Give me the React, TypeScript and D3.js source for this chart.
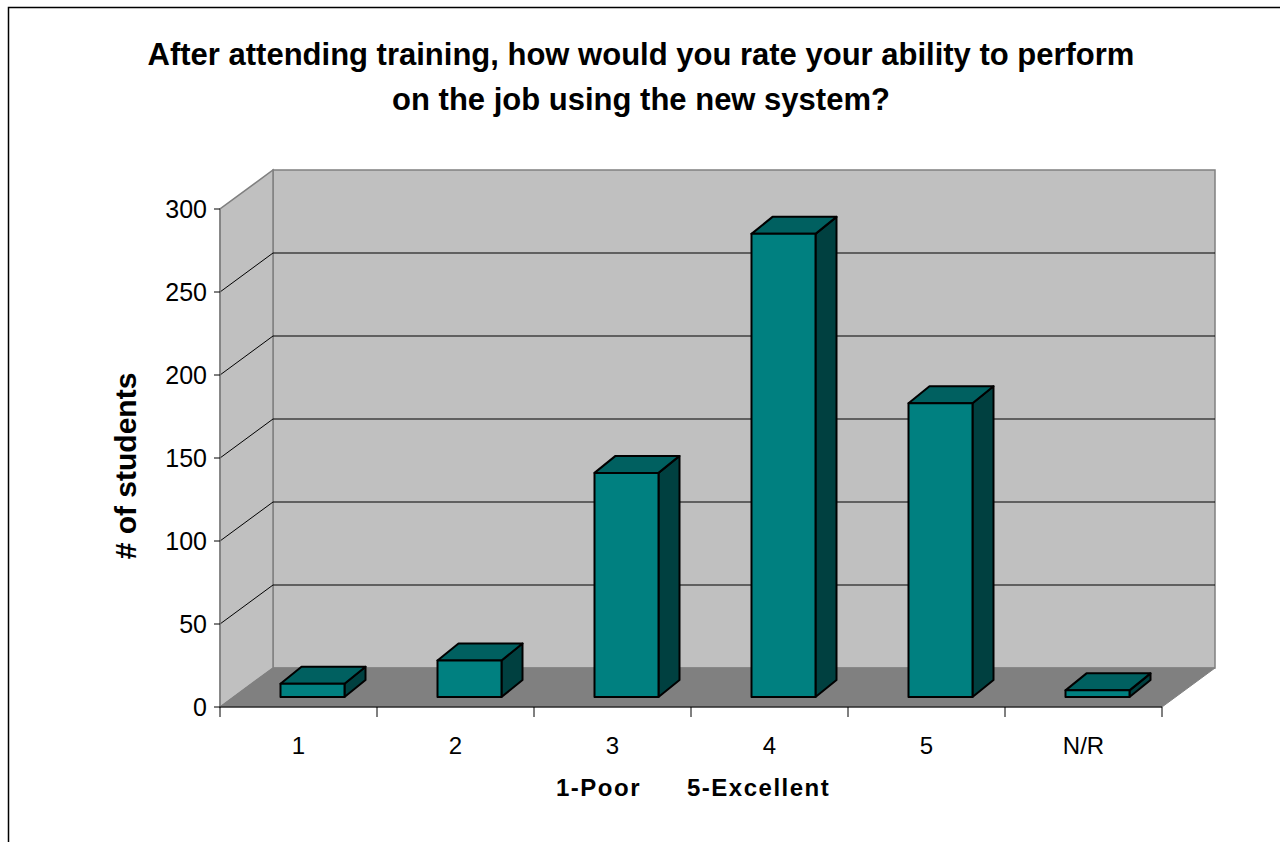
import React from "react";
import * as d3 from "d3";

const categories = ["1", "2", "3", "4", "5", "N/R"];
const values = [8, 22, 135, 279, 177, 4];
const yTicks = [0, 50, 100, 150, 200, 250, 300];
const titleLines = [
  "After attending training, how would you rate your ability to perform",
  "on the job using the new system?",
];
const yTitle = "# of students";
const xTitleParts = ["1-Poor", "5-Excellent"];

const W = 1280;
const H = 842;
const FONT = "'Liberation Sans', Arial, sans-serif";

export default function App() {
  const x0 = 220, x1 = 1162, yBase = 707, yTop = 209;
  const DX = 53, DY = 39; // wall depth
  const bFX = 14, bFY = 10; // bar front offset into depth
  const bDX = 21, bDY = 17; // bar depth

  const x = d3.scaleBand<string>().domain(categories).range([x0, x1]).paddingInner(0).paddingOuter(0);
  const y = d3.scaleLinear().domain([0, 300]).range([yBase, yTop]);
  const bw = 64;

  const backWall = [[x0 + DX, y(0) - DY], [x1 + DX, y(0) - DY], [x1 + DX, y(300) - DY], [x0 + DX, y(300) - DY]];
  const leftWall = [[x0, y(0)], [x0 + DX, y(0) - DY], [x0 + DX, y(300) - DY], [x0, y(300)]];
  const floor = [[x0, y(0)], [x1, y(0)], [x1 + DX, y(0) - DY], [x0 + DX, y(0) - DY]];
  const pts = (p: number[][]) => p.map((q) => q.join(",")).join(" ");

  return (
    <svg width={W} height={H} style={{ position: "absolute", left: 0, top: 0, background: "#fff" }} fontFamily={FONT}>
      <path d={`M8.5,${H} L8.5,7.5 L${W},7.5`} fill="none" stroke="#000" strokeWidth={1.5} />
      {titleLines.map((t, i) => (
        <text key={i} x={641} y={65 + i * 45} textAnchor="middle" fontWeight="bold" fontSize={31}>{t}</text>
      ))}
      <polygon points={pts(backWall)} fill="#C0C0C0" stroke="#808080" strokeWidth={1.5} />
      <polygon points={pts(leftWall)} fill="#C0C0C0" stroke="#808080" strokeWidth={1.5} />
      <polygon points={pts(floor)} fill="#808080" stroke="#808080" strokeWidth={1} />
      {yTicks.filter((t) => t > 0 && t < 300).map((t) => (
        <g key={t}>
          <line x1={x0 + DX} x2={x1 + DX} y1={y(t) - DY} y2={y(t) - DY} stroke="#000" strokeWidth={1} />
          <line x1={x0} x2={x0 + DX} y1={y(t)} y2={y(t) - DY} stroke="#000" strokeWidth={1} />
        </g>
      ))}
      {categories.map((c, i) => {
        const v = values[i];
        const cx = (x(c) as number) + x.bandwidth() / 2;
        const l = cx - bw / 2 + bFX;
        const r = l + bw;
        const b = y(0) - bFY;
        const t = y(v) - bFY;
        const front = [[l, b], [r, b], [r, t], [l, t]];
        const top = [[l, t], [r, t], [r + bDX, t - bDY], [l + bDX, t - bDY]];
        const side = [[r, b], [r + bDX, b - bDY], [r + bDX, t - bDY], [r, t]];
        return (
          <g key={c} stroke="#000" strokeWidth={2} strokeLinejoin="round">
            <polygon points={pts(side)} fill="#004040" />
            <polygon points={pts(top)} fill="#006060" />
            <polygon points={pts(front)} fill="#008080" />
          </g>
        );
      })}
      <line x1={x0} x2={x0} y1={y(0)} y2={y(300)} stroke="#808080" strokeWidth={1.5} />
      <line x1={x0} x2={x1} y1={y(0)} y2={y(0)} stroke="#000" strokeWidth={1} />
      {yTicks.map((t) => (
        <g key={t}>
          <line x1={x0 - 6} x2={x0} y1={y(t)} y2={y(t)} stroke="#000" strokeWidth={1} />
          <text x={207} y={y(t) + 9} textAnchor="end" fontSize={25}>{t}</text>
        </g>
      ))}
      {[...categories.map((c) => x(c) as number), x1].map((v, i) => (
        <line key={i} x1={v} x2={v} y1={y(0)} y2={y(0) + 10} stroke="#000" strokeWidth={1} />
      ))}
      {categories.map((c) => (
        <text key={c} x={(x(c) as number) + x.bandwidth() / 2} y={754} textAnchor="middle" fontSize={24}>{c}</text>
      ))}
      <text x={556} y={796} fontWeight="bold" fontSize={24} letterSpacing={1.5}>{xTitleParts[0]}</text>
      <text x={687} y={796} fontWeight="bold" fontSize={24} letterSpacing={1.5}>{xTitleParts[1]}</text>
      <text transform="translate(136,466) rotate(-90)" textAnchor="middle" fontWeight="bold" fontSize={30}>{yTitle}</text>
    </svg>
  );
}
